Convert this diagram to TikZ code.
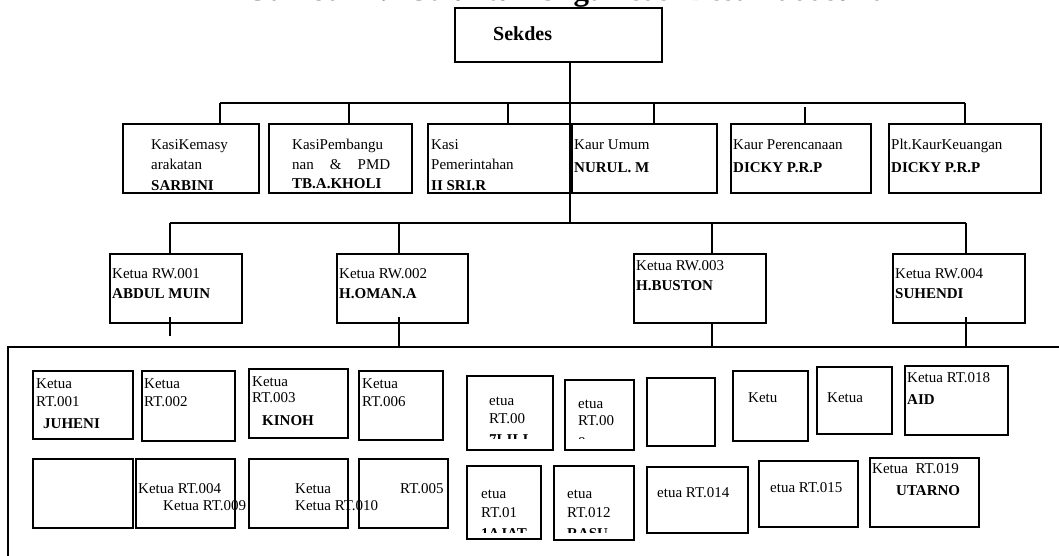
\documentclass[tikz,border=0pt]{standalone}
\usepackage{fontspec}
\setmainfont{Liberation Serif}
\newcommand\fs{\fontsize{15}{18}\selectfont}
\newcommand\bx[5]{\node[box, minimum width={#4-#2}, minimum height={#5-#3}] (#1) at (#2,#3) {};}
\begin{document}
\begin{tikzpicture}[x=1pt,y=-1pt,
  box/.style={draw, line width=1.6pt, inner sep=0pt, outer sep=0pt, anchor=north west},
  ln/.style={line width=1.3pt},
  thk/.style={line width=2.4pt},
  txt/.style={anchor=base west, inner sep=0pt, font=\fs},
  bld/.style={anchor=base west, inner sep=0pt, font=\fs\bfseries}]
\useasboundingbox (0,0) rectangle (1059,556);
% title (cut off at the top edge, as in the reference)
\node[anchor=base, inner sep=0pt, font=\fontsize{31}{33}\selectfont\bfseries] (title) at (566,1) {Gambar 4.1 Struktur Organisasi Desa Padasuka};
% Sekdes
\bx{sek}{455}{8}{662}{62}
\node[anchor=base west, inner sep=0pt, font=\fontsize{20}{22}\selectfont\bfseries] (sekt) at (493,41) {Sekdes};
% Kasi / Kaur row
\bx{k1}{123}{124}{259}{193}
\bx{k2}{269}{124}{412}{193}
\bx{k3}{428}{124}{571}{193}
\bx{k4}{572}{124}{717}{193}
\bx{k5}{731}{124}{871}{193}
\bx{k6}{889}{124}{1041}{193}
\node[txt] (k1a) at (151,150) {KasiKemasy};
\node[txt] (k1b) at (151,170) {arakatan};
\node[bld] (k1c) at (151,190) {SARBINI};
\node[txt] (k2a) at (292,150) {KasiPembangu};
\node[txt] (k2b) at (292,170) {\hbox to 98pt{nan\hfill\&\hfill PMD}};
\node[bld] (k2c) at (292,188) {TB.A.KHOLI};
\node[txt] (k3a) at (431,150) {Kasi};
\node[txt] (k3b) at (431,170) {Pemerintahan};
\node[bld] (k3c) at (431,190) {II SRI.R};
\node[txt] (k4a) at (574,150) {Kaur Umum};
\node[bld] (k4b) at (574,173) {NURUL. M};
\node[txt] (k5a) at (733,150) {Kaur Perencanaan};
\node[bld] (k5b) at (733,173) {DICKY P.R.P};
\node[txt] (k6a) at (891,150) {Plt.KaurKeuangan};
\node[bld] (k6b) at (891,173) {DICKY P.R.P};
% RW row
\bx{rw1}{110}{254}{242}{323}
\bx{rw2}{337}{254}{468}{323}
\bx{rw3}{634}{254}{766}{323}
\bx{rw4}{893}{254}{1025}{323}
\node[txt] (rw1a) at (112,278) {Ketua RW.001};
\node[bld] (rw1b) at (112,298) {ABDUL MUIN};
\node[txt] (rw2a) at (339,278) {Ketua RW.002};
\node[bld] (rw2b) at (339,298) {H.OMAN.A};
\node[txt] (rw3a) at (636,270) {Ketua RW.003};
\node[bld] (rw3b) at (636,290) {H.BUSTON};
\node[txt] (rw4a) at (895,278) {Ketua RW.004};
\node[bld] (rw4b) at (895,298) {SUHENDI};
% connectors
\coordinate (kbL) at (220,103);
\coordinate (kbR) at (965,103);
\coordinate (d2) at (349,103);
\coordinate (d3) at (508,103);
\coordinate (d4) at (654,103);
\coordinate (d5) at (805,107);
\coordinate (rbL) at (170,223);
\coordinate (rbR) at (966,223);
\coordinate (m) at (570,223);
\coordinate (e2) at (399,223);
\coordinate (e3) at (712,223);
\coordinate (rtL) at (8,347);
\coordinate (rtR) at (1059,347);
\coordinate (rtB) at (8,556);
\coordinate (f1) at (170,336);
\coordinate (f2) at (399,347);
\coordinate (f3) at (712,347);
\coordinate (f4) at (966,347);
\draw[ln] (sek.south -| m) -- (m);
\draw[ln] (kbL) -- (kbR);
\draw[ln] (kbL) -- (kbL |- k1.north);
\draw[thk] (d2) -- (d2 |- k2.north);
\draw[ln] (d3) -- (d3 |- k3.north);
\draw[thk] (d4) -- (d4 |- k4.north);
\draw[ln] (d5) -- (d5 |- k5.north);
\draw[ln] (kbR) -- (kbR |- k6.north);
\draw[ln] (rbL) -- (rbR);
\draw[ln] (rbL) -- (rbL |- rw1.north);
\draw[ln] (e2) -- (e2 |- rw2.north);
\draw[ln] (e3) -- (e3 |- rw3.north);
\draw[ln] (rbR) -- (rbR |- rw4.north);
\draw[ln] ([yshift=6pt]f1 |- rw1.south) -- (f1);
\draw[ln] ([yshift=6pt]f2 |- rw2.south) -- (f2);
\draw[ln] (f3 |- rw3.south) -- (f3);
\draw[ln] ([yshift=6pt]f4 |- rw4.south) -- (f4);
\draw[ln] (rtR) -- (rtL) -- (rtB);
% RT row 1
\bx{r1}{33}{371}{133}{439}
\bx{r2}{142}{371}{235}{441}
\bx{r3}{249}{369}{348}{438}
\bx{r6}{359}{371}{443}{440}
\bx{r7}{467}{376}{553}{450}
\bx{r8}{565}{380}{634}{450}
\bx{re}{647}{378}{715}{446}
\bx{rk}{733}{371}{808}{441}
\bx{rkk}{817}{367}{892}{434}
\bx{r18}{905}{366}{1008}{435}
\node[txt] (r1a) at (36,388) {Ketua};
\node[txt] (r1b) at (36,406) {RT.001};
\node[bld] (r1c) at (43,428) {JUHENI};
\node[txt] (r2a) at (144,388) {Ketua};
\node[txt] (r2b) at (144,406) {RT.002};
\node[txt] (r3a) at (252,386) {Ketua};
\node[txt] (r3b) at (252,402) {RT.003};
\node[bld] (r3c) at (262,425) {KINOH};
\node[txt] (r6a) at (362,388) {Ketua};
\node[txt] (r6b) at (362,406) {RT.006};
\node[txt] (r7a) at (489,405) {etua};
\node[txt] (r7b) at (489,423) {RT.00};
\begin{scope}
\clip (467,376) rectangle (553,438);
\node[bld] (r7c) at (489,444) {7LILI};
\end{scope}
\node[txt] (r8a) at (578,408) {etua};
\node[txt] (r8b) at (578,425) {RT.00};
\begin{scope}
\clip (565,380) rectangle (634,438);
\node[txt] (r8c) at (578,447) {8};
\end{scope}
\node[txt] (rka) at (748,402) {Ketu};
\node[txt] (rkka) at (827,402) {Ketua};
\node[txt] (r18a) at (907,382) {Ketua RT.018};
\node[bld] (r18b) at (907,404) {AID};
% RT row 2
\bx{s1}{33}{459}{133}{528}
\bx{s2}{136}{459}{235}{528}
\bx{s3}{249}{459}{348}{528}
\bx{s5}{359}{459}{448}{528}
\bx{s10}{467}{466}{541}{539}
\bx{s12}{554}{466}{634}{540}
\bx{s14}{647}{467}{748}{533}
\bx{s15}{759}{461}{858}{527}
\bx{s19}{870}{458}{979}{527}
\node[txt] (s2a) at (138,493) {Ketua RT.004};
\node[txt] (s2b) at (163,510) {Ketua RT.009};
\node[txt] (s3a) at (295,493) {Ketua};
\node[txt] (s3b) at (295,510) {Ketua RT.010};
\node[txt] (s5a) at (400,493) {RT.005};
\node[txt] (s10a) at (481,498) {etua};
\node[txt] (s10b) at (481,517) {RT.01};
\begin{scope}
\clip (467,466) rectangle (541,532);
\node[bld] (s10c) at (481,538) {1AJAT};
\end{scope}
\node[txt] (s12a) at (567,498) {etua};
\node[txt] (s12b) at (567,517) {RT.012};
\begin{scope}
\clip (554,466) rectangle (634,532);
\node[bld] (s12c) at (567,538) {RASU};
\end{scope}
\node[txt] (s14a) at (657,497) {etua RT.014};
\node[txt] (s15a) at (770,492) {etua RT.015};
\node[txt] (s19a) at (872,473) {Ketua\ \ RT.019};
\node[bld] (s19b) at (896,495) {UTARNO};
\end{tikzpicture}
\end{document}
